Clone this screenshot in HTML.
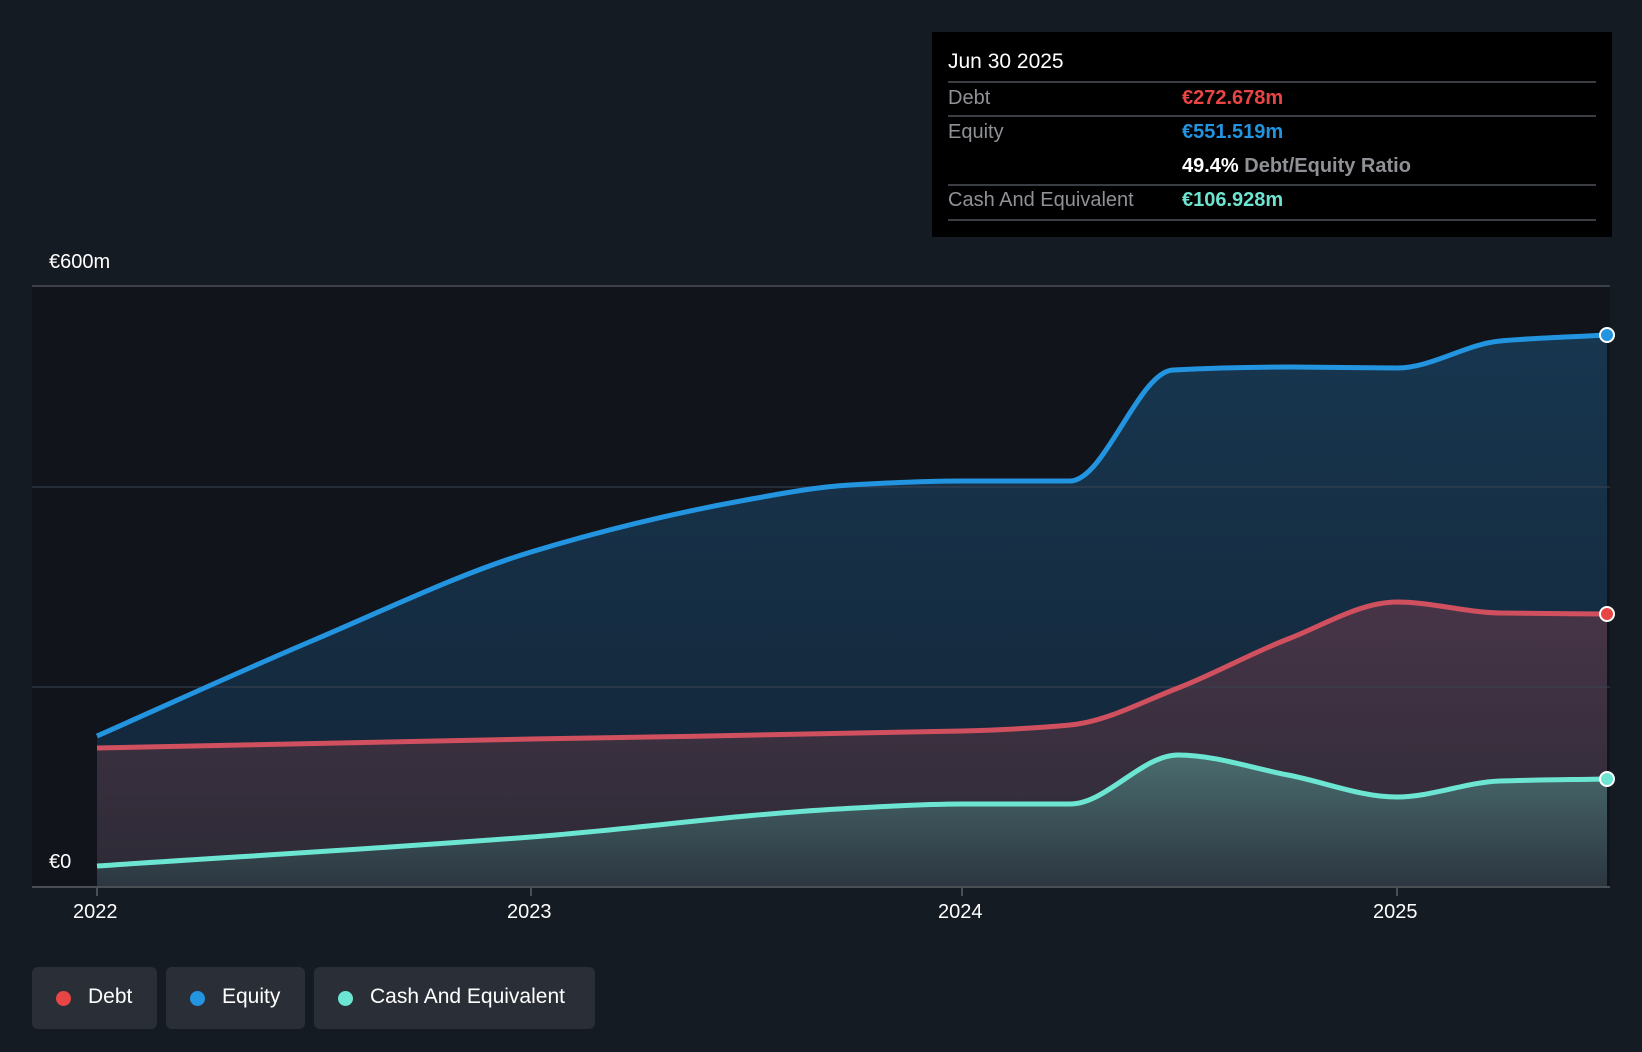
<!DOCTYPE html>
<html><head><meta charset="utf-8"><style>
html,body{margin:0;padding:0;background:#151b23;}
body{width:1642px;height:1052px;position:relative;overflow:hidden;font-family:"Liberation Sans",sans-serif;}
.tt{position:absolute;left:932px;top:32px;width:680px;height:205px;background:#000;}
.tt .t{position:absolute;left:16px;top:18px;color:#fff;font-size:21px;}
.tt .l{position:absolute;left:16px;right:16px;height:2px;background:#3a3d42;}
.tt .k{position:absolute;left:16px;color:#8f9196;font-size:20px;}
.tt .v{position:absolute;left:250px;font-size:20px;font-weight:bold;}
.lab{position:absolute;color:#fff;font-size:20px;}
.leg{position:absolute;top:967px;height:62px;background:#2a2f37;border-radius:6px;color:#fff;font-size:21px;}
.leg span.d{position:absolute;top:24px;width:15px;height:15px;border-radius:50%;}
.leg span.n{position:absolute;top:18px;}
</style></head><body>
<svg width="1642" height="1052" style="position:absolute;left:0;top:0">
<defs>
<linearGradient id="ge" x1="0" y1="0" x2="0" y2="1"><stop offset="0" stop-color="#17364f"/><stop offset="1" stop-color="#132436"/></linearGradient>
<linearGradient id="gd" x1="0" y1="0" x2="0" y2="1"><stop offset="0" stop-color="#473547"/><stop offset="1" stop-color="#2c2a36"/></linearGradient>
<linearGradient id="gc" x1="0" y1="0" x2="0" y2="1"><stop offset="0" stop-color="#4a6c6e"/><stop offset="1" stop-color="#2c3640"/></linearGradient>
</defs>
<rect x="32" y="286" width="1578" height="601" fill="#11141a"/>
<path id="ea" fill="url(#ge)"/>
<path id="da" fill="url(#gd)"/>
<path id="ca" fill="url(#gc)"/>
<line x1="32" y1="286" x2="1610" y2="286" stroke="#4a4e55" stroke-width="1.5"/>
<line x1="32" y1="487" x2="1610" y2="487" stroke="#3a4350" stroke-opacity="0.7" stroke-width="1.5"/>
<line x1="32" y1="687" x2="1610" y2="687" stroke="#3a4350" stroke-opacity="0.7" stroke-width="1.5"/>
<path id="el" fill="none" stroke="#2394e0" stroke-width="5"/>
<path id="dl" fill="none" stroke="#d0505f" stroke-width="5"/>
<path id="cl" fill="none" stroke="#6ce6d2" stroke-width="5"/>
<line x1="32" y1="887" x2="1610" y2="887" stroke="#4a4e55" stroke-width="2"/>
<g stroke="#4a4e55" stroke-width="2"><line x1="97" y1="887" x2="97" y2="896"/><line x1="531" y1="887" x2="531" y2="896"/><line x1="962" y1="887" x2="962" y2="896"/><line x1="1397" y1="887" x2="1397" y2="896"/></g>
<circle cx="1607" cy="335" r="7" fill="#2394e0" stroke="#fff" stroke-width="2"/>
<circle cx="1607" cy="614" r="7" fill="#e84545" stroke="#fff" stroke-width="2"/>
<circle cx="1607" cy="779" r="7" fill="#6ce6d2" stroke="#fff" stroke-width="2"/>
</svg>
<div class="lab" style="left:49px;top:251px">€600m</div>
<div class="lab" style="left:49px;top:851px">€0</div>
<div class="lab" style="left:73px;top:901px">2022</div>
<div class="lab" style="left:507px;top:901px">2023</div>
<div class="lab" style="left:938px;top:901px">2024</div>
<div class="lab" style="left:1373px;top:901px">2025</div>
<div class="tt">
<div class="t">Jun 30 2025</div>
<div class="l" style="top:49px"></div>
<div class="k" style="top:55px">Debt</div><div class="v" style="top:55px;color:#e84545">€272.678m</div>
<div class="l" style="top:83px"></div>
<div class="k" style="top:89px">Equity</div><div class="v" style="top:89px;color:#2394df">€551.519m</div>
<div class="v" style="top:123px;color:#fff">49.4% <span style="color:#8f9196">Debt/Equity Ratio</span></div>
<div class="l" style="top:152px"></div>
<div class="k" style="top:157px">Cash And Equivalent</div><div class="v" style="top:157px;color:#6ee3cf">€106.928m</div>
<div class="l" style="top:187px"></div>
</div>
<div class="leg" style="left:32px;width:125px"><span class="d" style="left:24px;background:#e84545"></span><span class="n" style="left:56px">Debt</span></div>
<div class="leg" style="left:166px;width:139px"><span class="d" style="left:24px;background:#2394e0"></span><span class="n" style="left:56px">Equity</span></div>
<div class="leg" style="left:314px;width:281px"><span class="d" style="left:24px;background:#6ce6d2"></span><span class="n" style="left:56px">Cash And Equivalent</span></div>
<script>
function mono(p){var n=p.length,d=[],m=[];for(var i=0;i<n-1;i++)d.push((p[i+1][1]-p[i][1])/(p[i+1][0]-p[i][0]));
m[0]=d[0];m[n-1]=d[n-2];for(i=1;i<n-1;i++){if(d[i-1]*d[i]<=0){m[i]=0;}else{var a=Math.abs(d[i-1]),b=Math.abs(d[i]);m[i]=Math.sign(d[i])*(2*a*b/(a+b));}}
var s="M"+p[0][0]+","+p[0][1];for(i=0;i<n-1;i++){var h=(p[i+1][0]-p[i][0])/3;
s+="C"+(p[i][0]+h)+","+(p[i][1]+m[i]*h)+" "+(p[i+1][0]-h)+","+(p[i+1][1]-m[i+1]*h)+" "+p[i+1][0]+","+p[i+1][1];}return s;}
var E=[[97,736],[314,640],[531,552],[746,500],[850,485],[962,481],[1070,481],[1173,370],[1290,367],[1397,368],[1500,341],[1607,335]];
var D=[[97,748],[531,739],[962,731],[1070,725],[1178,688],[1288,639],[1397,602],[1500,613],[1607,614]];
var C=[[97,866],[531,837],[838,809],[962,804],[1070,804],[1178,755],[1288,775],[1397,797],[1500,781],[1607,779]];
function set(id,p){var s=mono(p);document.getElementById(id+"l").setAttribute("d",s);
document.getElementById(id+"a").setAttribute("d",s+"L"+p[p.length-1][0]+",887L"+p[0][0]+",887Z");}
set("e",E);set("d",D);set("c",C);
</script>
</body></html>
